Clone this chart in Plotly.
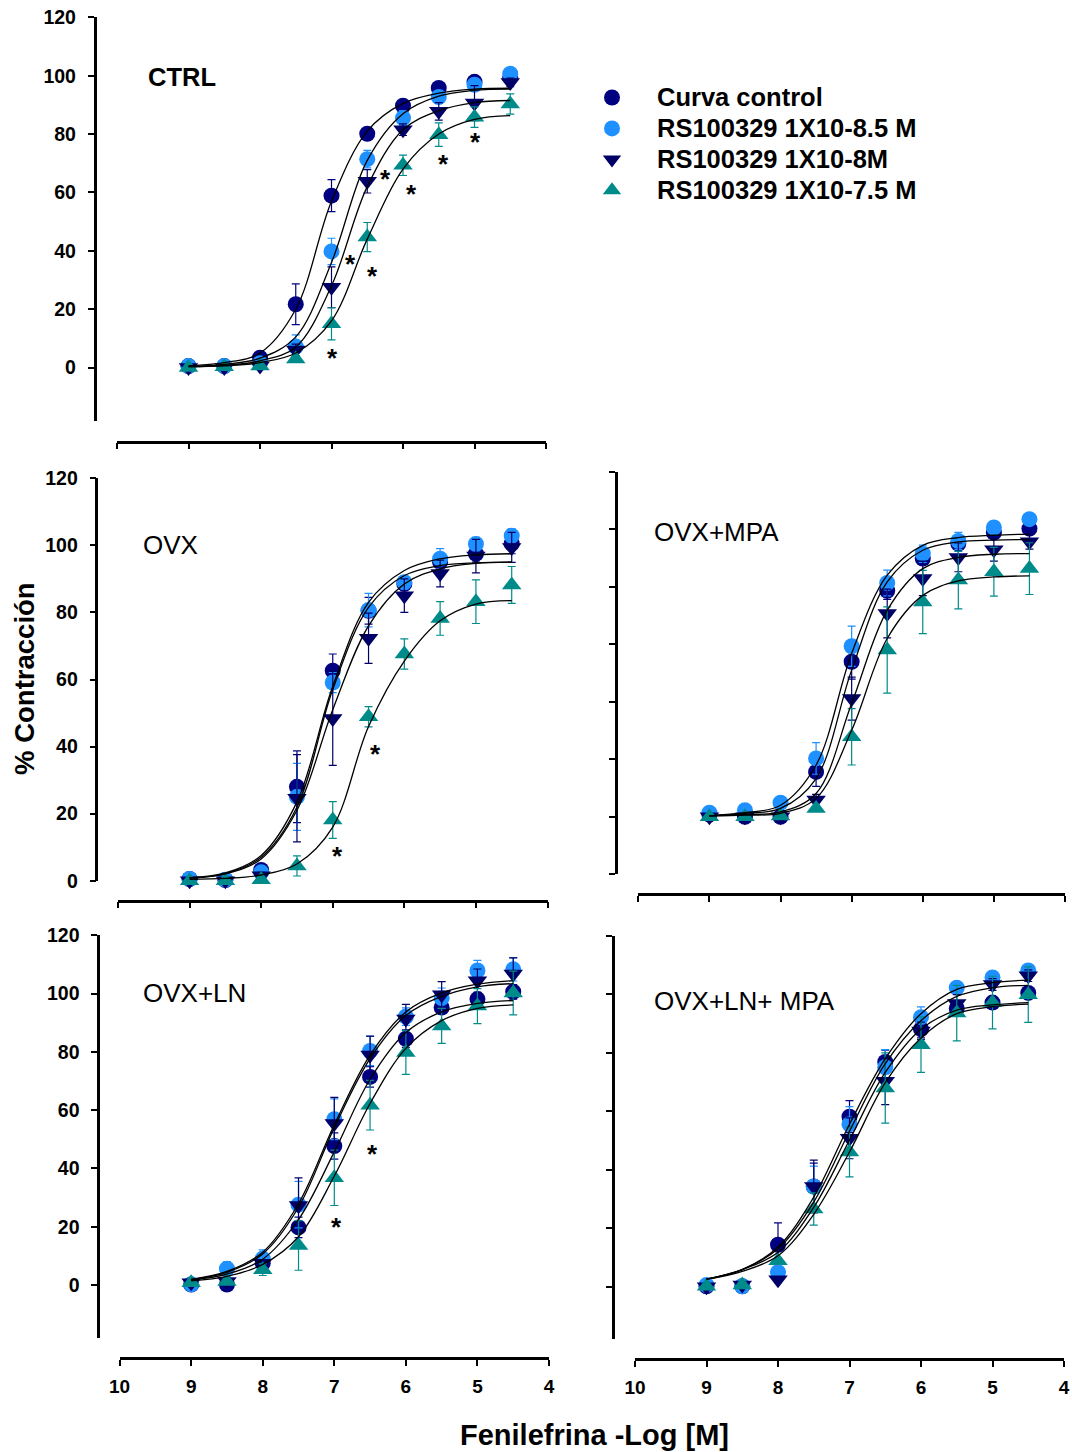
import plotly.graph_objects as go

W, H = 1072, 1452
FONT = "Liberation Sans, Arial, sans-serif"


def PX(px):
    return min(1.0, max(0.0, px / W))


def PY(py):
    return min(1.0, max(0.0, 1 - py / H))


# ---------------- data ----------------
doses = [9, 8.5, 8, 7.5, 7, 6.5, 6, 5.5, 5, 4.5]
x_tick_vals = [10, 9, 8, 7, 6, 5, 4]
y_tick_vals = [0, 20, 40, 60, 80, 100, 120]
y_tick_vals_mpa = [-20, 0, 20, 40, 60, 80, 100, 120]

series_names = ["Curva control", "RS100329 1X10-8.5 M", "RS100329 1X10-8M", "RS100329 1X10-7.5 M"]
series_colors = ["#000080", "#1E90FF", "#000066", "#008B8B"]
series_symbols = ["circle", "circle", "triangle-down", "triangle-up"]

panel_titles = ["CTRL", "OVX", "OVX+MPA", "OVX+LN", "OVX+LN+ MPA"]

# CTRL
ctrl_control = [0.5, 0.5, 3.4, 21.7, 58.9, 80.1, 89.7, 95.8, 97.9, 99.5]
ctrl_control_err = [0.5, 0.5, 1, 7, 5.5, 2, 1.5, 1, 1, 1]
ctrl_85 = [0.5, 0.5, 1.5, 7.2, 39.8, 71.4, 85.5, 92.7, 96.9, 100.7]
ctrl_85_err = [0.5, 0.5, 1, 4, 4.5, 3, 2.5, 2, 1.5, 1]
ctrl_8 = [0, 0, 0.5, 6, 27.5, 63.8, 81.5, 87.8, 90.6, 97.7]
ctrl_8_err = [0.5, 0.5, 0.5, 2, 7, 4, 2, 3, 6, 1.5]
ctrl_75 = [0, 0.3, 0.5, 2.9, 15, 44.7, 69.3, 79.8, 85.8, 90.3]
ctrl_75_err = [0.5, 0.5, 0.5, 1, 5.5, 5, 3.5, 4, 3.5, 3.5]
ctrl_fit_a = [0.6, 1.7, 5, 20, 57, 81, 90.5, 94, 95.4, 95.7]
ctrl_fit_b = [0.4, 1.1, 3.2, 10.5, 36, 71, 87, 93, 95, 95.4]
ctrl_fit_c = [0.3, 0.8, 2.3, 7, 28, 62, 81.5, 88, 90.8, 91.5]
ctrl_fit_d = [0.3, 0.6, 1.7, 5, 16, 44, 68, 80, 85, 86.3]
ctrl_star_x = [6.98, 6.74, 6.43, 6.25, 5.88, 5.43, 4.98]
ctrl_star_y = [5.5, 37.5, 33.5, 66.6, 61.5, 71.8, 79.4]

# OVX
ovx_control = [0.5, 0.2, 3.2, 28, 62.6, 80.5, 88.5, 95, 97.5, 100.5]
ovx_control_err = [0.5, 0.5, 1.5, 10.7, 5, 4, 2, 2, 2.5, 3]
ovx_85 = [0.5, 0.3, 2.5, 25, 59.1, 80.7, 89, 96, 100.4, 102.9]
ovx_85_err = [0.5, 0.5, 1, 10, 3, 5, 2, 3, 2, 2]
ovx_8 = [0, 0, 1.5, 24.6, 48.4, 72.3, 85, 91.6, 96.8, 99.4]
ovx_8_err = [0.5, 0.5, 1, 13, 14, 7.5, 5, 4, 5, 4.5]
ovx_75 = [0, 0, 0.3, 4.4, 18.1, 48.9, 67.6, 78.2, 83.2, 88.2]
ovx_75_err = [0.5, 0.5, 0.5, 3, 5.5, 3, 4.5, 5, 6.5, 5.5]
ovx_fit_a = [0.9, 2.3, 7.5, 23.5, 58, 83, 92.5, 96, 97.2, 97.5]
ovx_fit_b = [0.8, 2.1, 7, 22, 57, 81.5, 91, 94, 94.8, 95]
ovx_fit_c = [0.8, 2.0, 6.5, 21, 51, 76, 88.5, 93, 94.6, 95]
ovx_fit_d = [0.4, 0.7, 1.7, 5, 16, 46, 65.5, 77.5, 82.5, 83.5]
ovx_star_x = [6.40, 6.94]
ovx_star_y = [39.5, 9.1]

# OVX+MPA
mpa_control = [0.8, 0, 0, 15.6, 53.9, 78.6, 89.8, 95, 98.8, 100.2]
mpa_control_err = [0.5, 0.5, 0.5, 5, 6, 3, 2, 2, 2, 2]
mpa_85 = [1.4, 2.3, 4.9, 20.3, 59.3, 81.3, 91.5, 95.9, 100.6, 103.5]
mpa_85_err = [0.5, 0.5, 1, 5.5, 7, 4.5, 3, 3, 2, 1]
mpa_8 = [0, 0, 0, 5.8, 41.1, 70.7, 82.9, 90.2, 92.9, 95.6]
mpa_8_err = [0.5, 0.5, 0.5, 2, 7.5, 8.5, 6, 5, 4, 2.5]
mpa_75 = [0, 0, 0.3, 2.9, 27.8, 58, 74.7, 82.3, 85.2, 86.3]
mpa_75_err = [0.5, 0.5, 0.5, 1, 9.8, 15, 11, 10, 8.5, 9]
mpa_fit_a = [0.35, 1.4, 4, 18, 56.8, 84, 94.4, 97.1, 97.9, 98.3]
mpa_fit_b = [0.35, 1.2, 2.9, 13.3, 51, 81.7, 92.7, 95.6, 96.2, 96.4]
mpa_fit_c = [0.35, 0.8, 1.7, 8.1, 39.4, 71.8, 86.3, 90.2, 91.3, 91.5]
mpa_fit_d = [0.35, 0.6, 1.2, 6.4, 30.1, 62, 77, 82, 83.4, 83.8]

# OVX+LN
ln_control = [0.2, 0.2, 7.5, 19.8, 47.7, 71.4, 84.5, 95.2, 98.1, 100.6]
ln_control_err = [0.5, 0.5, 1.5, 3.5, 4.5, 3.5, 3, 1.5, 2, 2.5]
ln_85 = [0.3, 5.6, 9.1, 27.6, 56.9, 80.3, 92.1, 98.4, 107.9, 108.3]
ln_85_err = [0.5, 2.5, 3, 8, 7, 5, 3, 3.5, 3.5, 4]
ln_8 = [0.8, 1.2, 7.5, 27.3, 55.4, 78.9, 91.3, 99.6, 104.4, 106.7]
ln_8_err = [0.5, 0.5, 1, 9.5, 9, 6.5, 5, 4.5, 4, 5.5]
ln_75 = [0.8, 1.2, 5.3, 13.6, 36.8, 61.7, 79.8, 88.9, 95.7, 100.2]
ln_75_err = [0.5, 0.5, 2, 8.5, 9.5, 8.5, 7.5, 6, 6, 7.5]
ln_fit_a = [2, 4.7, 11.3, 27.9, 55, 78.9, 93.7, 100.2, 103.2, 104.4]
ln_fit_b = [2, 4.4, 10.7, 26.7, 54, 77.7, 92.5, 99, 102.3, 103.4]
ln_fit_c = [1.8, 3.8, 8.9, 22.5, 45.7, 70.6, 86.6, 93.7, 96.6, 97.6]
ln_fit_d = [1.5, 3, 7.1, 16.6, 37.4, 62.3, 81.2, 90.7, 94.9, 96.1]
ln_star_x = [6.47, 6.97]
ln_star_y = [47.1, 21.9]

# OVX+LN+MPA
lnmpa_control = [0.2, 0.2, 14.4, 34.3, 58.2, 76.9, 88.1, 95.2, 97.2, 100.5]
lnmpa_control_err = [0.5, 0.5, 7.5, 8, 5.5, 4, 3, 2, 2, 2]
lnmpa_85 = [0.6, 0.2, 5, 34.3, 55.6, 75.1, 92.2, 102.3, 105.8, 108.2]
lnmpa_85_err = [0.5, 0.5, 1, 7, 6, 6, 3.5, 2, 2, 2]
lnmpa_8 = [0, 0.6, 2.4, 34.3, 50.8, 70.3, 87.5, 96.9, 103.4, 106.4]
lnmpa_8_err = [0.5, 0.5, 1, 9, 7, 8, 3, 3, 2, 2]
lnmpa_75 = [0.2, 0.6, 8.9, 26.6, 46.1, 68, 82.8, 93.6, 97.2, 99.9]
lnmpa_75_err = [0.5, 0.5, 1, 5.5, 8.5, 12, 9.5, 9.5, 9, 9.5]
lnmpa_fit_a = [2.6, 5.9, 13.6, 30.7, 55.6, 78, 93.4, 101.7, 104, 104.9]
lnmpa_fit_b = [2.6, 5.9, 13, 29, 53.2, 76.3, 91, 99.3, 102.3, 103.1]
lnmpa_fit_c = [2.6, 5.9, 11.8, 27.2, 50.2, 73.3, 88.1, 94.6, 96.4, 97.2]
lnmpa_fit_d = [2.6, 5.3, 10.6, 24.8, 46.1, 69.8, 85.1, 93.4, 95.8, 96.7]

panel_means = [
    [ctrl_control, ctrl_85, ctrl_8, ctrl_75],
    [ovx_control, ovx_85, ovx_8, ovx_75],
    [mpa_control, mpa_85, mpa_8, mpa_75],
    [ln_control, ln_85, ln_8, ln_75],
    [lnmpa_control, lnmpa_85, lnmpa_8, lnmpa_75],
]
panel_errs = [
    [ctrl_control_err, ctrl_85_err, ctrl_8_err, ctrl_75_err],
    [ovx_control_err, ovx_85_err, ovx_8_err, ovx_75_err],
    [mpa_control_err, mpa_85_err, mpa_8_err, mpa_75_err],
    [ln_control_err, ln_85_err, ln_8_err, ln_75_err],
    [lnmpa_control_err, lnmpa_85_err, lnmpa_8_err, lnmpa_75_err],
]
panel_fits = [
    [ctrl_fit_a, ctrl_fit_b, ctrl_fit_c, ctrl_fit_d],
    [ovx_fit_a, ovx_fit_b, ovx_fit_c, ovx_fit_d],
    [mpa_fit_a, mpa_fit_b, mpa_fit_c, mpa_fit_d],
    [ln_fit_a, ln_fit_b, ln_fit_c, ln_fit_d],
    [lnmpa_fit_a, lnmpa_fit_b, lnmpa_fit_c, lnmpa_fit_d],
]
panel_stars = [
    (ctrl_star_x, ctrl_star_y),
    (ovx_star_x, ovx_star_y),
    ([], []),
    (ln_star_x, ln_star_y),
    ([], []),
]

# ---------------- layout geometry (window pixels) ----------------
geom = [
    dict(x0=117, x1=546, xl=441.7, yt=17.3, yb=420.7, yr=[-18.2, 120], yx=94.6, yt_vals=y_tick_vals, ylab=True, xlab=False, tx=146, ty=77, bold=True),
    dict(x0=118, x1=547.5, xl=900.7, yt=478.3, yb=880.7, yr=[0, 120], yx=96.4, yt_vals=y_tick_vals, ylab=True, xlab=False, tx=141, ty=545, bold=False),
    dict(x0=638.3, x1=1065, xl=894, yt=471.7, yb=874.3, yr=[-20, 120], yx=616, yt_vals=y_tick_vals_mpa, ylab=False, xlab=False, tx=652, ty=532, bold=False),
    dict(x0=119.6, x1=549, xl=1358.3, yt=935.2, yb=1337.6, yr=[-18, 120], yx=98.2, yt_vals=y_tick_vals, ylab=True, xlab=True, tx=141, ty=993, bold=False),
    dict(x0=635, x1=1064, xl=1359.4, yt=935.9, yb=1338.6, yr=[-17.7, 120], yx=612.7, yt_vals=y_tick_vals, ylab=False, xlab=True, tx=652, ty=1001, bold=False),
]

fig = go.Figure()
layout = dict(
    template="none",
    width=W, height=H, margin=dict(l=0, r=0, t=0, b=0, pad=0, autoexpand=False), autosize=False,
    paper_bgcolor="white", plot_bgcolor="white",
    font=dict(family=FONT, color="black"),
    showlegend=True,
    legend=dict(
        x=PX(567), y=PY(77), xanchor="left", yanchor="top",
        font=dict(family=FONT, size=21.5, color="black"),
        itemwidth=80, tracegroupgap=0, bgcolor="rgba(0,0,0,0)", borderwidth=0,
    ),
)
annotations = []

for i, g in enumerate(geom):
    n = "" if i == 0 else str(i + 1)
    xa, ya = "x" + n, "y" + n
    layout["xaxis" + n] = dict(
        domain=[PX(g["x0"]), PX(g["x1"])], range=[10, 4], anchor="free", automargin=False,
        position=PY(g["xl"]), showline=True, linecolor="black", linewidth=2.5,
        ticks="outside", ticklen=6, tickwidth=1.5, tickcolor="black",
        tickvals=x_tick_vals, showticklabels=g["xlab"], showgrid=False, zeroline=False,
        tickfont=dict(family=FONT, size=19, color="black", weight="bold"),
        ticklabelstandoff=4,
    )
    layout["yaxis" + n] = dict(
        domain=[PY(g["yb"]), PY(g["yt"])], range=g["yr"], anchor="free", automargin=False,
        position=PX(g["yx"]), side="left", showline=True, linecolor="black", linewidth=2.5,
        ticks="outside", ticklen=6, tickwidth=1.5, tickcolor="black",
        tickvals=g["yt_vals"], showticklabels=g["ylab"], showgrid=False, zeroline=False,
        tickfont=dict(family=FONT, size=19.5, color="black", weight="bold"),
        ticklabelstandoff=8,
    )
    for s in range(4):
        fig.add_trace(go.Scatter(
            x=doses, y=panel_means[i][s], mode="markers", xaxis=xa, yaxis=ya,
            name='<span style="font-size:25.5px"><b>%s</b></span>' % series_names[s],
            showlegend=(i == 0), legendrank=s,
            marker=dict(symbol=series_symbols[s], size=16 if s < 2 else 17, color=series_colors[s]),
            error_y=dict(type="data", array=panel_errs[i][s], color=series_colors[s],
                         thickness=1.2, width=4),
            cliponaxis=False,
        ))
    for s in range(4):
        fig.add_trace(go.Scatter(
            x=doses, y=panel_fits[i][s], mode="lines", xaxis=xa, yaxis=ya,
            line=dict(color="black", width=1.3, shape="spline", smoothing=1.0),
            showlegend=False, hoverinfo="skip", cliponaxis=False,
        ))
    sx, sy = panel_stars[i]
    for xv, yv in zip(sx, sy):
        annotations.append(dict(
            x=xv, y=yv, xref=xa, yref=ya, text="<b>*</b>", showarrow=False,
            font=dict(family=FONT, size=26, color="black"), yshift=-6,
        ))
    t = panel_titles[i]
    annotations.append(dict(
        x=PX(g["tx"]), y=PY(g["ty"]), xref="paper", yref="paper",
        text=("<b>%s</b>" % t) if g["bold"] else t, showarrow=False,
        xanchor="left", yanchor="middle",
        font=dict(family=FONT, size=25.5 if g["bold"] else 26, color="black"),
    ))

annotations.append(dict(
    x=PX(24.6), y=PY(678.3), xref="paper", yref="paper", text="<b>% Contracción</b>",
    textangle=-90, showarrow=False, xanchor="center", yanchor="middle",
    font=dict(family=FONT, size=27.5, color="black"),
))
annotations.append(dict(
    x=PX(594), y=PY(1435), xref="paper", yref="paper", text="<b>Fenilefrina -Log [M]</b>",
    showarrow=False, xanchor="center", yanchor="middle",
    font=dict(family=FONT, size=29, color="black"),
))
layout["annotations"] = annotations
fig.update_layout(**layout)

fig.write_html(
    "out.html",
    config={"displayModeBar": False},
    post_script="document.body.style.margin='0';document.body.style.overflow='hidden';",
)
